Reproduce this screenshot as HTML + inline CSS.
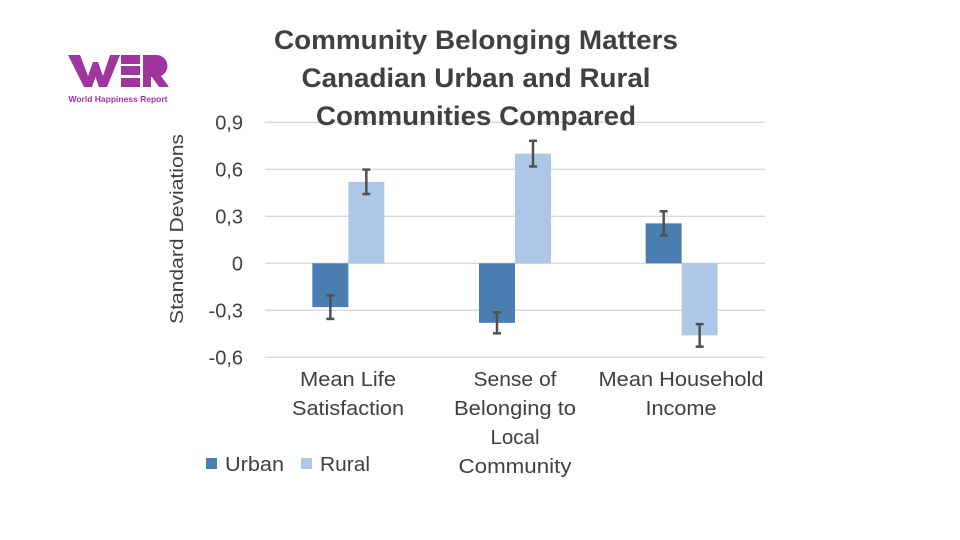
<!DOCTYPE html>
<html><head><meta charset="utf-8"><style>
body{margin:0;width:960px;height:540px;background:#fff;overflow:hidden;font-family:"Liberation Sans",Calibri,sans-serif}
</style></head><body>
<svg width="960" height="540" style="position:absolute;left:0;top:0">
<g fill="#a0359f">
<polygon points="68,55 80,55 88,76 93,62 98,62 103,76 110,55 120,55 107,87 99,87 95.5,77 92,87 84,87"/>
<rect x="121" y="55" width="19" height="9"/><rect x="121" y="66" width="19" height="9"/><rect x="121" y="78" width="19" height="9"/>
<path d="M143,55 h14 a11,11 0 0 1 4,21 l8,11 h-10 l-7,-10 h-1 v10 h-8 z"/>
<text x="118" y="102" font-size="8.5" font-weight="bold" text-anchor="middle" font-family="Liberation Sans, sans-serif">World Happiness Report</text>
</g>
<g id="grid"></g><g id="bars"></g><g id="ticks"></g>
<text x="0" y="0" transform="translate(183,229) rotate(-90)" font-size="18" fill="#404040" text-anchor="middle" textLength="190" lengthAdjust="spacingAndGlyphs">Standard Deviations</text>
<g font-size="27" font-weight="bold" fill="#404040" text-anchor="middle" lengthAdjust="spacingAndGlyphs">
<text x="476" y="49" textLength="404" lengthAdjust="spacingAndGlyphs">Community Belonging Matters</text>
<text x="476" y="87" textLength="349" lengthAdjust="spacingAndGlyphs">Canadian Urban and Rural</text>
<text x="476" y="125" textLength="320" lengthAdjust="spacingAndGlyphs">Communities Compared</text>
</g>
<g font-size="20" fill="#404040" text-anchor="middle">
<text x="348" y="386" textLength="96" lengthAdjust="spacingAndGlyphs">Mean Life</text><text x="348" y="415" textLength="112" lengthAdjust="spacingAndGlyphs">Satisfaction</text>
<text x="515" y="386" textLength="83" lengthAdjust="spacingAndGlyphs">Sense of</text><text x="515" y="415" textLength="122" lengthAdjust="spacingAndGlyphs">Belonging to</text><text x="515" y="444" textLength="49" lengthAdjust="spacingAndGlyphs">Local</text><text x="515" y="473" textLength="113" lengthAdjust="spacingAndGlyphs">Community</text>
<text x="681" y="386" textLength="165" lengthAdjust="spacingAndGlyphs">Mean Household</text><text x="681" y="415" textLength="71" lengthAdjust="spacingAndGlyphs">Income</text>
</g>
<g font-size="20" fill="#404040">
<rect x="206" y="458" width="11" height="11" fill="#4a7eb0"/>
<text x="225" y="471" textLength="59" lengthAdjust="spacingAndGlyphs">Urban</text>
<rect x="301" y="458" width="11" height="11" fill="#aec7e6"/>
<text x="320" y="471" textLength="50" lengthAdjust="spacingAndGlyphs">Rural</text>
</g>
</svg>
<script>
const categories=["Mean Life Satisfaction","Sense of Belonging","Mean Household Income"];
const urban=[-0.28,-0.38,0.255];
const rural=[0.52,0.70,-0.46];
const urbanErr=[0.075,0.067,0.077];
const ruralErr=[0.078,0.082,0.072];
const ticks=[0.9,0.6,0.3,0,-0.3,-0.6];
const tickLabels=["0,9","0,6","0,3","0","-0,3","-0,6"];
const NS="http://www.w3.org/2000/svg";
const x0=265,x1=765,bw=36;
const y=v=>263.3-v*(47/0.3);
const gw=(x1-x0)/categories.length;
function mk(t,a,p){const e=document.createElementNS(NS,t);for(const k in a)e.setAttribute(k,a[k]);document.getElementById(p).appendChild(e);return e;}
ticks.forEach((t,i)=>{
 const l=mk('line',{x1:x0,x2:x1,y1:y(t),y2:y(t),stroke:'#d9d9d9','stroke-width':1.3},'grid');
 
 
 const tx=mk('text',{x:243,y:y(t)+7,'font-size':20,fill:'#404040','text-anchor':'end'},'ticks');
 tx.textContent=tickLabels[i];
 
 
});
function bar(v,e,xl,col,name){
 const r=mk('rect',{x:xl,y:Math.min(y(0),y(v)),width:bw,height:Math.abs(y(v)-y(0)),fill:col},'bars');
 
 
 const cx=xl+bw/2,ya=y(v+e),yb=y(v-e);
 const g=mk('g',{stroke:'#505050','stroke-width':2.5},'bars');
 
 
 [[cx,ya,cx,yb],[cx-4,ya,cx+4,ya],[cx-4,yb,cx+4,yb]].forEach(p=>{const l=document.createElementNS(NS,'line');l.setAttribute('x1',p[0]);l.setAttribute('y1',p[1]);l.setAttribute('x2',p[2]);l.setAttribute('y2',p[3]);g.appendChild(l);});
}
categories.forEach((c,i)=>{
 const cx=x0+gw*(i+0.5);
 bar(urban[i],urbanErr[i],cx-bw,'#4a7eb0','bar-urban-'+i);
 bar(rural[i],ruralErr[i],cx,'#aec7e6','bar-rural-'+i);
});
</script>
</body></html>
